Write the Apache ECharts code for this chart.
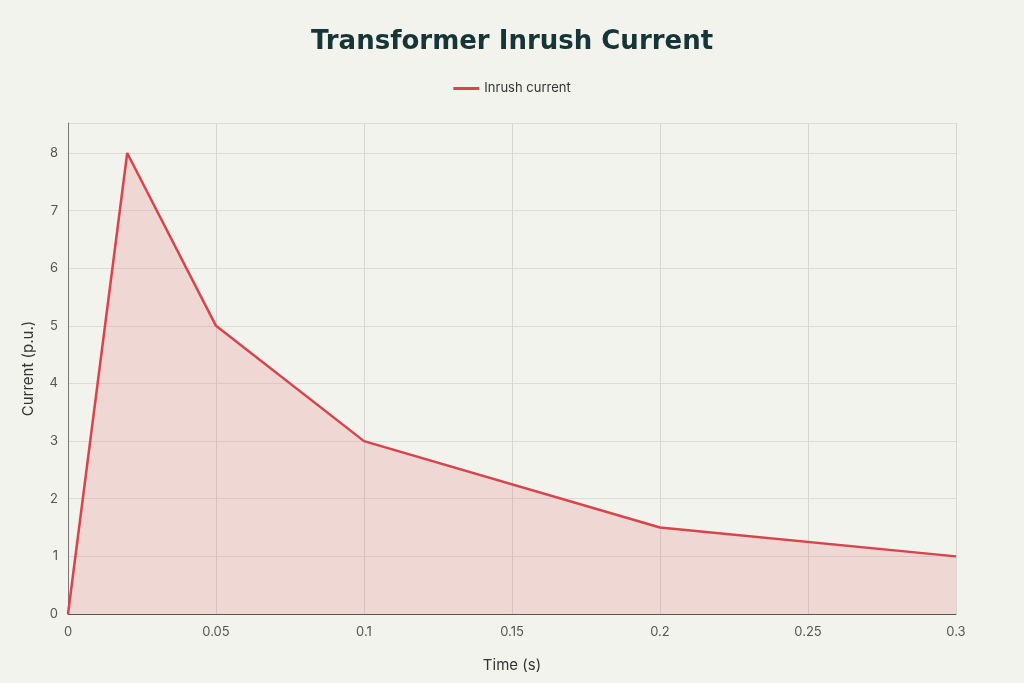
<!DOCTYPE html>
<html><head><meta charset="utf-8">
<script src="https://cdn.jsdelivr.net/npm/echarts@6/dist/echarts.min.js"></script>
<style>html,body{margin:0;padding:0;background:#f3f3ee}#c{width:1024px;height:683px}</style>
</head><body><div id="c"></div>
<script>
const times = [0, 0.02, 0.05, 0.1, 0.2, 0.3];
const current = [0, 8, 5, 3, 1.5, 1];
const seriesName = 'Inrush current';
const chart = echarts.init(document.getElementById('c'));
chart.setOption({
  backgroundColor: '#f3f3ee',
  title: {text: 'Transformer Inrush Current', left: 'center', top: 24,
    textStyle: {fontFamily: 'DejaVu Sans', fontSize: 26, fontWeight: 900, color: '#163536'}},
  legend: {top: 77, left: 'center', itemWidth: 26, itemHeight: 3, icon: 'rect',
    textStyle: {fontFamily: 'Inter', fontSize: 13, color: '#333'}, data: [seriesName]},
  grid: {left: 68, right: 68, top: 123, bottom: 69},
  xAxis: {type: 'value', min: 0, max: 0.3, interval: 0.05, name: 'Time (s)', nameLocation: 'middle', nameGap: 44,
    nameTextStyle: {fontFamily: 'Inter', fontSize: 15, color: '#333'},
    axisLine: {lineStyle: {color: '#555'}}, axisTick: {show: false},
    axisLabel: {fontFamily: 'Inter', fontSize: 13, color: '#555', margin: 12},
    splitLine: {lineStyle: {color: '#d6d6d2'}}},
  yAxis: {type: 'value', min: 0, max: 8.52, interval: 1, name: 'Current (p.u.)', nameLocation: 'middle', nameGap: 32,
    nameTextStyle: {fontFamily: 'Inter', fontSize: 15, color: '#333'},
    axisLine: {show: true, lineStyle: {color: '#777'}}, axisTick: {show: false},
    axisLabel: {fontFamily: 'Inter', fontSize: 13, color: '#555', showMaxLabel: false, margin: 10},
    splitLine: {lineStyle: {color: '#dcdcd8'}}},
  series: [{name: seriesName, type: 'line', data: times.map((t, i) => [t, current[i]]),
    symbol: 'none', lineStyle: {color: '#d9434b', width: 2.5}, itemStyle: {color: '#d9434b'},
    areaStyle: {color: 'rgba(225,120,120,0.3)'}}]
});
</script></body></html>
